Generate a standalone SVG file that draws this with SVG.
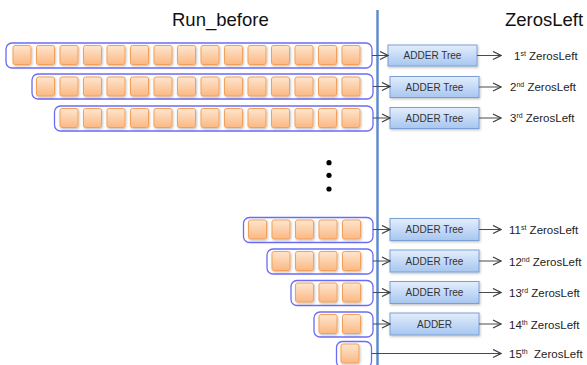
<svg xmlns="http://www.w3.org/2000/svg" width="587" height="365" viewBox="0 0 587 365">
  <defs>
    <linearGradient id="cellFill" x1="0" y1="0" x2="0" y2="1">
      <stop offset="0" stop-color="#fee6cf"/>
      <stop offset="1" stop-color="#fbb883"/>
    </linearGradient>
    <linearGradient id="adderFill" x1="0" y1="0" x2="0" y2="1">
      <stop offset="0" stop-color="#e3eefc"/>
      <stop offset="1" stop-color="#a7c6f0"/>
    </linearGradient>
    <filter id="shadow" x="-20%" y="-20%" width="150%" height="160%">
      <feDropShadow dx="0.8" dy="1.2" stdDeviation="0.8" flood-color="#000" flood-opacity="0.25"/>
    </filter>
    <marker id="open" viewBox="0 0 10 10" refX="9" refY="5" markerWidth="10" markerHeight="10" markerUnits="userSpaceOnUse" orient="auto">
      <path d="M1,1 L9,5 L1,9" fill="none" stroke="#404040" stroke-width="1.3"/>
    </marker>
    <g id="cell">
      <rect x="0" y="0" width="18" height="19" rx="2" fill="url(#cellFill)" stroke="#f3a15a" stroke-width="1" filter="url(#shadow)"/>
    </g>
  </defs>
  <style>
    .title { font-family: "Liberation Sans", Arial, sans-serif; font-size: 18.5px; fill: #111; }
    .lbl { font-family: "Liberation Sans", Arial, sans-serif; font-size: 11.5px; fill: #222; }
    .sup { font-size: 7px; }
    .adder-txt { font-family: "Liberation Sans", Arial, sans-serif; font-size: 10px; fill: #333; text-anchor: middle; }
    .group { fill: #fff; stroke: #6b6bf5; stroke-width: 1.3; }
    .adder { fill: url(#adderFill); stroke: #7c9fd3; stroke-width: 1; }
    .conn { stroke: #4a4a4a; stroke-width: 1; fill: none; marker-end: url(#open); }
  </style>

  <rect width="587" height="365" fill="#fff"/>

  <text class="title" x="172" y="26">Run_before</text>
  <text class="title" x="505" y="26">ZerosLeft</text>

  <!-- divider -->
  <line x1="377.5" y1="10" x2="377.5" y2="365" stroke="#5f8bcb" stroke-width="2.5"/>

  <!-- row 1 -->
  <g id="row1">
    <rect class="group" x="6" y="43" width="366" height="25" rx="6"/>
    <use href="#cell" x="13" y="45.5"/><use href="#cell" x="36.5" y="45.5"/><use href="#cell" x="60" y="45.5"/>
    <use href="#cell" x="83.5" y="45.5"/><use href="#cell" x="107" y="45.5"/><use href="#cell" x="130.5" y="45.5"/>
    <use href="#cell" x="154" y="45.5"/><use href="#cell" x="177.5" y="45.5"/><use href="#cell" x="201" y="45.5"/>
    <use href="#cell" x="224.5" y="45.5"/><use href="#cell" x="248" y="45.5"/><use href="#cell" x="271.5" y="45.5"/>
    <use href="#cell" x="295" y="45.5"/><use href="#cell" x="318.5" y="45.5"/><use href="#cell" x="342" y="45.5"/>
  </g>
  <!-- row 2 -->
  <g id="row2">
    <rect class="group" x="32" y="74" width="341" height="25" rx="6"/>
    <use href="#cell" x="36.5" y="77"/><use href="#cell" x="60" y="77"/>
    <use href="#cell" x="83.5" y="77"/><use href="#cell" x="107" y="77"/><use href="#cell" x="130.5" y="77"/>
    <use href="#cell" x="154" y="77"/><use href="#cell" x="177.5" y="77"/><use href="#cell" x="201" y="77"/>
    <use href="#cell" x="224.5" y="77"/><use href="#cell" x="248" y="77"/><use href="#cell" x="271.5" y="77"/>
    <use href="#cell" x="295" y="77"/><use href="#cell" x="318.5" y="77"/><use href="#cell" x="342" y="77"/>
  </g>
  <!-- row 3 -->
  <g id="row3">
    <rect class="group" x="54.5" y="106" width="318.5" height="25" rx="6"/>
    <use href="#cell" x="60" y="108.5"/>
    <use href="#cell" x="83.5" y="108.5"/><use href="#cell" x="107" y="108.5"/><use href="#cell" x="130.5" y="108.5"/>
    <use href="#cell" x="154" y="108.5"/><use href="#cell" x="177.5" y="108.5"/><use href="#cell" x="201" y="108.5"/>
    <use href="#cell" x="224.5" y="108.5"/><use href="#cell" x="248" y="108.5"/><use href="#cell" x="271.5" y="108.5"/>
    <use href="#cell" x="295" y="108.5"/><use href="#cell" x="318.5" y="108.5"/><use href="#cell" x="342" y="108.5"/>
  </g>

  <!-- ellipsis -->
  <g id="ellipsis" fill="#000">
    <circle cx="329" cy="162.7" r="2.6"/>
    <circle cx="329" cy="175.3" r="2.6"/>
    <circle cx="329" cy="189" r="2.6"/>
  </g>

  <!-- row 11 -->
  <g id="row11">
    <rect class="group" x="243.5" y="217.5" width="129.5" height="25" rx="6"/>
    <use href="#cell" x="248.5" y="220"/><use href="#cell" x="272" y="220"/><use href="#cell" x="295.5" y="220"/>
    <use href="#cell" x="319" y="220"/><use href="#cell" x="342.5" y="220"/>
  </g>
  <!-- row 12 -->
  <g id="row12">
    <rect class="group" x="267" y="249" width="106" height="25" rx="6"/>
    <use href="#cell" x="272" y="251.5"/><use href="#cell" x="295.5" y="251.5"/>
    <use href="#cell" x="319" y="251.5"/><use href="#cell" x="342.5" y="251.5"/>
  </g>
  <!-- row 13 -->
  <g id="row13">
    <rect class="group" x="291" y="280.5" width="82" height="25" rx="6"/>
    <use href="#cell" x="295.5" y="283"/><use href="#cell" x="319" y="283"/><use href="#cell" x="342.5" y="283"/>
  </g>
  <!-- row 14 -->
  <g id="row14">
    <rect class="group" x="314" y="312" width="59" height="25" rx="6"/>
    <use href="#cell" x="319" y="314.5"/><use href="#cell" x="342.5" y="314.5"/>
  </g>
  <!-- row 15 -->
  <g id="row15">
    <rect class="group" x="336.5" y="341.5" width="35" height="26" rx="6"/>
    <use href="#cell" x="341" y="344"/>
  </g>

  <!-- adders -->
  <g id="adder1"><rect class="adder" x="388" y="45" width="89" height="21" filter="url(#shadow)"/><text class="adder-txt" x="432.5" y="59">ADDER Tree</text></g>
  <g id="adder2"><rect class="adder" x="390" y="76.5" width="89" height="21" filter="url(#shadow)"/><text class="adder-txt" x="434.5" y="90.5">ADDER Tree</text></g>
  <g id="adder3"><rect class="adder" x="390" y="107.5" width="89" height="21" filter="url(#shadow)"/><text class="adder-txt" x="434.5" y="121.5">ADDER Tree</text></g>
  <g id="adder11"><rect class="adder" x="390" y="218.5" width="89" height="22" filter="url(#shadow)"/><text class="adder-txt" x="434.5" y="233">ADDER Tree</text></g>
  <g id="adder12"><rect class="adder" x="390" y="250" width="89" height="22" filter="url(#shadow)"/><text class="adder-txt" x="434.5" y="264.5">ADDER Tree</text></g>
  <g id="adder13"><rect class="adder" x="390" y="281.5" width="89" height="22" filter="url(#shadow)"/><text class="adder-txt" x="434.5" y="296">ADDER Tree</text></g>
  <g id="adder14"><rect class="adder" x="390" y="313" width="89" height="22" filter="url(#shadow)"/><text class="adder-txt" x="434.5" y="327.5">ADDER</text></g>

  <!-- results -->
  <g id="labels">
    <text class="lbl" x="514" y="59.5">1<tspan class="sup" dy="-4">st</tspan><tspan dy="4"> ZerosLeft</tspan></text>
    <text class="lbl" x="510" y="90.5">2<tspan class="sup" dy="-4">nd</tspan><tspan dy="4"> ZerosLeft</tspan></text>
    <text class="lbl" x="510" y="122">3<tspan class="sup" dy="-4">rd</tspan><tspan dy="4"> ZerosLeft</tspan></text>
    <text class="lbl" x="509" y="234">11<tspan class="sup" dy="-4">st</tspan><tspan dy="4"> ZerosLeft</tspan></text>
    <text class="lbl" x="509" y="265.5">12<tspan class="sup" dy="-4">nd</tspan><tspan dy="4"> ZerosLeft</tspan></text>
    <text class="lbl" x="509" y="297">13<tspan class="sup" dy="-4">rd</tspan><tspan dy="4"> ZerosLeft</tspan></text>
    <text class="lbl" x="509" y="328.5">14<tspan class="sup" dy="-4">th</tspan><tspan dy="4"> ZerosLeft</tspan></text>
    <text class="lbl" x="509" y="357.5">15<tspan class="sup" dy="-4">th</tspan><tspan dy="4">&#160; ZerosLeft</tspan></text>
  </g>

  <!-- connectors -->
  <g id="connectors">
    <line class="conn" x1="372" y1="55.5" x2="388" y2="55.5"/>
    <line class="conn" x1="373" y1="86.5" x2="390" y2="86.5"/>
    <line class="conn" x1="373" y1="118" x2="390" y2="118"/>
    <line class="conn" x1="373" y1="229.5" x2="390" y2="229.5"/>
    <line class="conn" x1="373" y1="261" x2="390" y2="261"/>
    <line class="conn" x1="373" y1="292.5" x2="390" y2="292.5"/>
    <line class="conn" x1="373" y1="324" x2="390" y2="324"/>

    <line class="conn" x1="477" y1="55.5" x2="501" y2="55.5"/>
    <line class="conn" x1="479" y1="87" x2="501" y2="87"/>
    <line class="conn" x1="479" y1="118" x2="501" y2="118"/>
    <line class="conn" x1="479" y1="229.5" x2="501" y2="229.5"/>
    <line class="conn" x1="479" y1="261" x2="501" y2="261"/>
    <line class="conn" x1="479" y1="292.5" x2="501" y2="292.5"/>
    <line class="conn" x1="479" y1="324" x2="501" y2="324"/>

    <line class="conn" x1="371.5" y1="353.5" x2="501" y2="353.5"/>
  </g>
</svg>
